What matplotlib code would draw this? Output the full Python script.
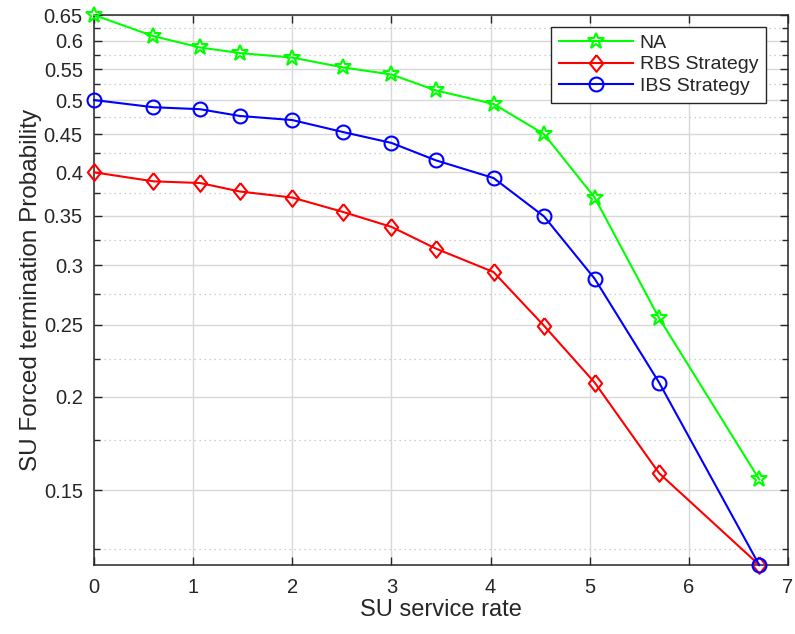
import matplotlib
matplotlib.use("Agg")
import matplotlib.pyplot as plt
from matplotlib.ticker import FixedLocator, NullFormatter

plt.rcParams['font.family'] = ['Liberation Sans', 'DejaVu Sans']

# Service rate samples
service_rate = [0, 0.6, 1.07, 1.47, 2.0, 2.51, 3.0, 3.45, 4.03, 4.54, 5.05, 5.7, 6.71]

# Forced termination probability per scheme
na = [0.65, 0.609, 0.588, 0.578, 0.570, 0.553, 0.541, 0.515, 0.494, 0.450, 0.370, 0.255, 0.155]
rbs = [0.400, 0.389, 0.387, 0.377, 0.370, 0.354, 0.338, 0.316, 0.294, 0.249, 0.209, 0.158, 0.119]
ibs = [0.500, 0.489, 0.486, 0.476, 0.470, 0.453, 0.438, 0.415, 0.393, 0.349, 0.288, 0.209, 0.119]

y_major = [0.15, 0.2, 0.25, 0.3, 0.35, 0.4, 0.45, 0.5, 0.55, 0.6, 0.65]
y_major_labels = ['0.15', '0.2', '0.25', '0.3', '0.35', '0.4', '0.45', '0.5', '0.55', '0.6', '0.65']
y_minor = [0.125, 0.175, 0.225, 0.275, 0.325, 0.375, 0.425, 0.475, 0.525, 0.575, 0.625]
x_ticks = [0, 1, 2, 3, 4, 5, 6, 7]

# slightly tall diamond outline
diamond = [(0, 1), (0.8, 0), (0, -1), (-0.8, 0), (0, 1)]

fig = plt.figure(figsize=(7.95, 6.34), dpi=100)
ax = fig.add_axes([0.1182, 0.1088, 0.873, 0.8675])

common = dict(lw=1.5, mfc='none', mew=1.5, clip_on=False, zorder=3)
ax.plot(service_rate, na, color='#00ff00', marker='*', ms=12, mec='#00ff00',
        label='NA', **common)
ax.plot(service_rate, rbs, color='#ff0000', marker=diamond, ms=12, mec='#ff0000',
        label='RBS Strategy', **common)
ax.plot(service_rate, ibs, color='#0000ff', marker='o', ms=10, mec='#0000ff',
        label='IBS Strategy', **common)

ax.set_yscale('log')
ax.set_xlim(0, 7)
ax.set_ylim(min(min(rbs), min(ibs)), max(na))

ax.set_yticks(y_major, y_major_labels)
ax.yaxis.set_minor_locator(FixedLocator(y_minor))
ax.yaxis.set_minor_formatter(NullFormatter())
ax.set_xticks(x_ticks)

ax.grid(True, which='major', color='#d8d8d8', lw=1.0, ls='-')
ax.grid(True, which='minor', axis='y', color='#c0c0c0', lw=0.9, ls=(0, (1, 3)))
ax.set_axisbelow(True)

ax.tick_params(which='both', direction='in', top=True, right=True,
               colors='#262626', labelsize=14.5, width=1.0)
ax.tick_params(which='major', length=6)
ax.tick_params(which='minor', length=4)
ax.tick_params(axis='x', pad=9)
ax.tick_params(axis='y', pad=8)
for s in ax.spines.values():
    s.set_color('#262626')
    s.set_linewidth(1.1)

ax.set_xlabel('SU service rate', fontsize=17, color='#262626', labelpad=2)
ax.set_ylabel('SU Forced termination Probability', fontsize=17.5, color='#262626', labelpad=1)

leg = ax.legend(loc='upper right', bbox_to_anchor=(0.968, 0.979), fontsize=14,
                fancybox=False, edgecolor='#262626', framealpha=1,
                handlelength=3.8, borderpad=0.4, labelspacing=0.2, handletextpad=0.35,
                borderaxespad=0)
leg.get_frame().set_linewidth(1.0)
for t in leg.get_texts():
    t.set_color('#262626')

fig.savefig('out.png', dpi=100)
